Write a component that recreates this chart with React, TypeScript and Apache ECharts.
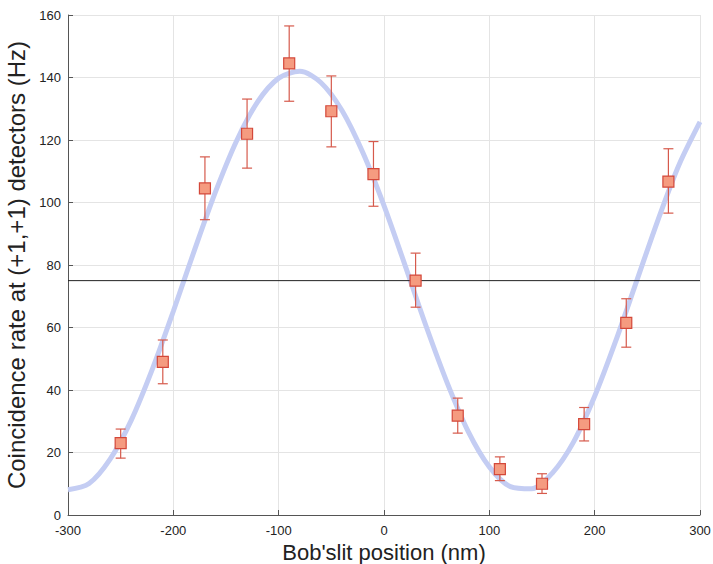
import React, { useEffect, useRef } from "react";
import * as echarts from "echarts";

// Slit positions (nm) and measured coincidence rates (Hz)
const positions = [-250, -210, -170, -130, -90, -50, -10, 30, 70, 110, 150, 190, 230, 270];
const rates = [23, 49, 104.5, 122, 144.5, 129.2, 109.1, 75, 31.8, 14.7, 10, 29.1, 61.5, 106.7];
const errLow = [18.2, 42, 94.5, 111, 132.4, 117.8, 98.8, 66.5, 26.2, 11, 6.9, 23.7, 53.7, 96.6];
const errHigh = [27.5, 56, 114.6, 133.1, 156.5, 140.5, 119.5, 83.8, 37.4, 18.6, 13.2, 34.4, 69.2, 117.2];

// Fitted curve sampled along the slit position axis
const fitX = [
  -300, -280, -260, -240, -220, -200, -180, -160, -140, -120, -100, -80, -60, -40, -20, 0,
  20, 40, 60, 80, 100, 120, 140, 160, 180, 200, 220, 240, 260, 280, 300,
];
const fitY = [
  8.1, 10.1, 17.9, 30.3, 46.6, 65.2, 84.7, 103.4, 119.7, 132.2, 139.8, 142, 138.4, 129.5, 115.9, 99,
  79.9, 60.4, 42.3, 26.7, 15.4, 9.1, 8.4, 13.5, 23.4, 38, 55.7, 75, 94.3, 112, 125.8,
];

// Horizontal reference level (Hz)
const meanLevel = 75;

const FONT = "'Liberation Sans', Arial, Helvetica, sans-serif";

export default function App() {
  const ref = useRef<HTMLDivElement>(null);

  useEffect(() => {
    if (!ref.current) return;
    const chart = echarts.init(ref.current, undefined, { renderer: "svg" });

    const errData = positions.map((x, i) => [x, errLow[i], errHigh[i]]);

    chart.setOption({
      animation: false,
      backgroundColor: "#ffffff",
      grid: { left: 68, right: 13, top: 15, bottom: 49, containLabel: false, outerBoundsMode: "none" },
      xAxis: {
        type: "value",
        min: -300,
        max: 300,
        interval: 100,
        name: "Bob'slit position (nm)",
        nameLocation: "middle",
        nameGap: 24,
        nameTextStyle: { fontFamily: FONT, fontSize: 22, color: "#222" },
        axisLine: { show: true, onZero: false, lineStyle: { color: "#555", width: 1 } },
        axisTick: { show: true, inside: true, length: 5, lineStyle: { color: "#555" } },
        axisLabel: { fontFamily: FONT, fontSize: 13, color: "#222", margin: 9 },
        splitLine: { show: true, lineStyle: { color: "#e4e4e4", width: 1 } },
      },
      yAxis: {
        type: "value",
        min: 0,
        max: 160,
        interval: 20,
        name: "Coincidence rate at (+1,+1) detectors (Hz)",
        nameLocation: "middle",
        nameGap: 37,
        nameTextStyle: { fontFamily: FONT, fontSize: 24, color: "#222" },
        axisLine: { show: true, onZero: false, lineStyle: { color: "#555", width: 1 } },
        axisTick: { show: true, inside: true, length: 5, lineStyle: { color: "#555" } },
        axisLabel: { fontFamily: FONT, fontSize: 13, color: "#222", margin: 7 },
        splitLine: { show: true, lineStyle: { color: "#e4e4e4", width: 1 } },
      },
      series: [
        {
          type: "line",
          data: fitX.map((x, i) => [x, fitY[i]]),
          smooth: 0.3,
          showSymbol: false,
          lineStyle: { color: "#c4cdf3", width: 5 },
          z: 2,
        },
        {
          type: "line",
          data: [
            [-300, meanLevel],
            [300, meanLevel],
          ],
          showSymbol: false,
          lineStyle: { color: "#222", width: 1 },
          z: 3,
        },
        {
          type: "custom",
          data: errData,
          renderItem: (params: any, api: any) => {
            const x = api.value(0);
            const top = api.coord([x, api.value(2)]);
            const bot = api.coord([x, api.value(1)]);
            const cap = 5;
            const style = { stroke: "#d65a4c", lineWidth: 1.2 };
            return {
              type: "group",
              children: [
                { type: "line", shape: { x1: top[0], y1: top[1], x2: bot[0], y2: bot[1] }, style },
                { type: "line", shape: { x1: top[0] - cap, y1: top[1], x2: top[0] + cap, y2: top[1] }, style },
                { type: "line", shape: { x1: bot[0] - cap, y1: bot[1], x2: bot[0] + cap, y2: bot[1] }, style },
              ],
            };
          },
          z: 4,
        },
        {
          type: "scatter",
          data: positions.map((x, i) => [x, rates[i]]),
          symbol: "rect",
          symbolSize: 11,
          itemStyle: { color: "#f59b80", borderColor: "#d4483a", borderWidth: 1.2, opacity: 1 },
          z: 5,
        },
      ],
    });

    return () => chart.dispose();
  }, []);

  return <div ref={ref} style={{ width: 713, height: 564, position: "absolute", left: 0, top: 0 }} />;
}
